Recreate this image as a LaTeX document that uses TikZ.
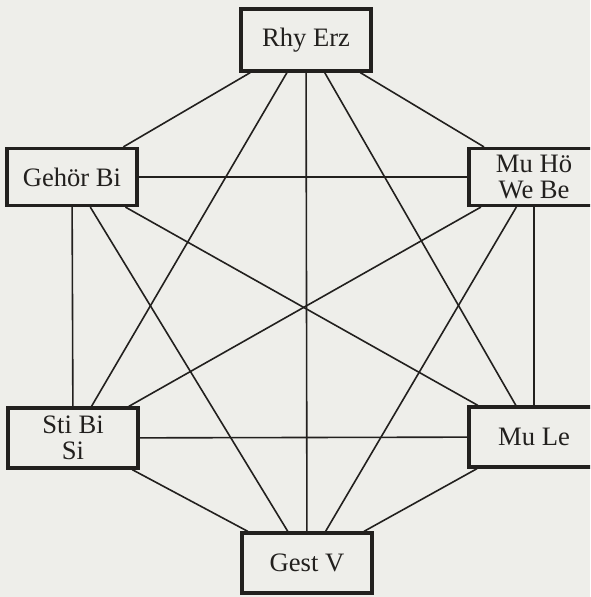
\documentclass[tikz,border=0pt]{standalone}
\usepackage{fontspec}
\setmainfont{Liberation Serif}
\usepackage{xcolor}
\definecolor{paper}{RGB}{238,238,234}
\definecolor{ink}{RGB}{34,32,30}

\begin{document}
\begin{tikzpicture}[x=0.5pt, y=-0.5pt, line width=0.8pt, color=ink,
        box/.style={rectangle, draw=ink, line width=1.6pt, fill=paper, inner sep=1pt, minimum width=65pt, minimum height=30pt, align=center, font=\fontsize{13.3}{12.8}\selectfont},]
                        \path[use as bounding box, fill=paper] (0,0) rectangle (590,597);
                        \clip (0,0) rectangle (590,597);

                        \node [box, minimum height = 31pt](rhy) at (306,40){Rhy Erz};
                        \node [box, minimum height = 28.5pt](gehoer) at (72,177){Gehör Bi};
                        \node [box, minimum height = 28.5pt](muhoe) at (534,177){Mu Hö\\We Be};
                        \node [box](sti) at (73,438){Sti Bi\\Si};
                        \node [box](mule) at (534,437){Mu Le};
                        \node [box](gest) at (307,563){Gest V};

                        \path
                            (rhy) edge (gehoer)
                            (rhy) edge (muhoe)
                            (rhy) edge (sti)
                            (rhy) edge (mule)
                            (rhy) edge (gest)

                            (gehoer) edge (muhoe)
                            (gehoer) edge (sti)
                            (gehoer) edge (mule)
                            (gehoer) edge (gest)

                            (muhoe) edge (sti)
                            (muhoe) edge (mule)
                            (muhoe) edge (gest)

                            (sti) edge (mule)
                            (sti) edge (gest)

                            (mule) edge (gest)
                        ;
\end{tikzpicture}
\end{document}
